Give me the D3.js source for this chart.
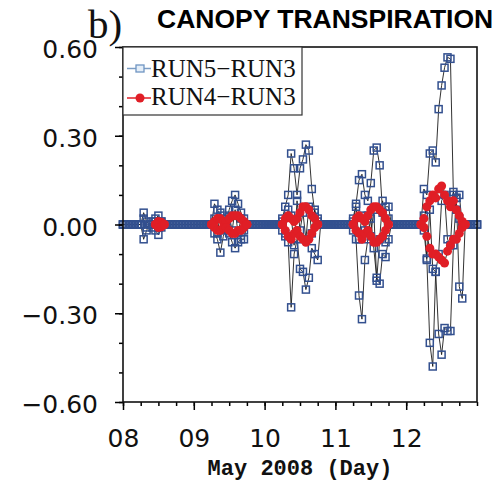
<!DOCTYPE html>
<html>
<head>
<meta charset="utf-8">
<script src="https://cdn.jsdelivr.net/npm/d3@7/dist/d3.min.js"></script>
<style>
  html, body { margin: 0; padding: 0; background: #fff; }
  svg { display: block; }
</style>
</head>
<body>
<div class="chart"></div>
<script>
"use strict";

// hours since 08 May 2008 00:00, hourly samples
var dayLabels = ['08', '09', '10', '11', '12'];
var dayHours = [0, 24, 48, 72, 96];
var yTicks = [0.6, 0.3, 0, -0.3, -0.6];
var seriesNames = ['RUN5\u2212RUN3', 'RUN4\u2212RUN3'];

// RUN5-RUN3 : first hour of each daytime window, then three traces per window (zero at night)
var run5Start = [6, 30, 53, 77, 101];
var run5A = [
  [0, 0.04, 0.01, 0.00, 0.01, 0.02, 0.03, 0.01, 0],
  [0, 0.07, 0.05, 0.03, 0.02, 0.01, 0.05, 0.08, 0.10, 0.07, 0.04, 0.02, 0],
  [0, 0.02, 0.06, 0.10, 0.24, 0.19, 0.10, 0.19, 0.22, 0.27, 0.25, 0.12, 0.04, 0.02, 0],
  [0, 0.02, 0.07, 0.15, 0.17, 0.10, 0.08, 0.14, 0.25, 0.26, 0.20, 0.04, 0.06, 0.06, 0],
  [0, 0.12, 0.10, 0.24, 0.25, 0.21, 0.39, 0.47, 0.53, 0.565, 0.56, 0.10, 0.09, 0.10, 0.00, 0]
];
var run5B = [
  [0, -0.05, -0.02, 0.00, -0.01, -0.02, -0.035, -0.01, 0],
  [0, -0.03, -0.05, -0.095, -0.04, -0.01, -0.03, -0.06, -0.08, -0.06, -0.05, -0.05, 0],
  [0, -0.02, -0.04, -0.06, -0.28, -0.10, -0.05, -0.15, -0.16, -0.22, -0.18, -0.08, -0.10, -0.12, 0],
  [0, -0.02, -0.05, -0.24, -0.32, -0.12, -0.05, 0.02, -0.08, -0.18, -0.20, -0.10, -0.11, -0.05, 0],
  [0, -0.02, -0.12, -0.40, -0.48, -0.16, -0.37, -0.44, -0.35, -0.36, -0.36, -0.07, 0.09, -0.21, -0.25, 0]
];
var run5C = [
  [0, 0.02, -0.01, 0.00, 0.00, 0.01, -0.01, 0.01, 0],
  [0, 0.02, -0.03, 0.04, -0.02, 0.01, 0.03, -0.02, 0.05, -0.03, 0.02, -0.02, 0],
  [0, 0.01, -0.03, 0.05, 0.03, -0.07, 0.08, -0.02, 0.04, -0.05, 0.06, -0.03, 0.05, 0.01, 0],
  [0, 0.01, 0.06, -0.05, 0.03, -0.02, 0.03, -0.04, 0.05, -0.19, -0.05, 0.08, -0.06, 0.02, 0],
  [0, 0.03, -0.115, 0.05, -0.15, -0.16, -0.10, 0.08, 0.10, -0.05, -0.07, 0.11, 0.05, 0.02, 0.00, 0]
];

// RUN4-RUN3 : only the daytime windows
var run4Start = [11, 30, 54, 78, 101];
var run4A = [
  [0, 0.01, 0.008, 0],
  [0, 0.01, 0.02, 0.02, 0.01, 0.01, 0.02, 0.03, 0.03, 0.03, 0.02, 0.01, 0],
  [0, 0.02, 0.03, 0.02, 0.01, 0.02, 0.04, 0.06, 0.06, 0.05, 0.03, 0.02, 0],
  [0, 0.02, 0.03, 0.02, 0.01, 0.03, 0.05, 0.06, 0.06, 0.05, 0.04, 0.02, 0],
  [0, 0.02, 0.06, 0.08, 0.10, 0.09, 0.12, 0.13, 0.10, 0.08, 0.06, 0.08, 0.05, 0.03, 0.01, 0]
];
var run4B = [
  [0, -0.01, -0.008, 0],
  [0, -0.01, -0.02, -0.02, -0.01, -0.01, -0.02, -0.03, -0.03, -0.02, -0.02, -0.01, 0],
  [0, -0.02, -0.04, -0.05, -0.03, -0.02, -0.04, -0.05, -0.06, -0.05, -0.03, -0.01, 0],
  [0, -0.02, -0.03, -0.05, -0.03, -0.02, -0.04, -0.06, -0.06, -0.05, -0.04, -0.02, 0],
  [0, -0.01, -0.04, -0.08, -0.10, -0.10, -0.11, -0.12, -0.13, -0.09, -0.07, -0.05, -0.05, -0.03, -0.01, 0]
];

var lastHour = 120;

function fullTrace(starts, segs) {
  var pts = d3.range(0, lastHour + 1).map(function (h) { return { h: h, v: 0 }; });
  segs.forEach(function (seg, i) {
    seg.forEach(function (v, k) { pts[starts[i] + k].v = v; });
  });
  return pts;
}

function dayTraces(starts, segs) {
  return segs.map(function (seg, i) {
    return seg.map(function (v, k) { return { h: starts[i] + k, v: v }; });
  });
}

var blueTraces = [fullTrace(run5Start, run5A), fullTrace(run5Start, run5B), fullTrace(run5Start, run5C)];
var redTraces = dayTraces(run4Start, run4A).concat(dayTraces(run4Start, run4B));

var svg = d3.select('.chart').append('svg').attr('width', 501).attr('height', 482);

var x = d3.scaleLinear().domain([0, lastHour]).range([123, 477]);
var y = d3.scaleLinear().domain([-0.6, 0.6]).range([402, 47]);
var line = d3.line().x(function (d) { return x(d.h); }).y(function (d) { return y(d.v); });

var sq = 7;
var blueStroke = '#33508f';

// RUN5-RUN3
var gBlue = svg.append('g');
gBlue.selectAll('path').data(blueTraces).enter().append('path')
  .attr('d', line).attr('fill', 'none').attr('stroke', '#1b1b1b').attr('stroke-width', 0.9);
blueTraces.forEach(function (tr) {
  gBlue.append('g').selectAll('rect').data(tr).enter().append('rect')
    .attr('x', function (d) { return x(d.h) - sq / 2; })
    .attr('y', function (d) { return y(d.v) - sq / 2; })
    .attr('width', sq).attr('height', sq)
    .attr('fill', 'none')
    .attr('stroke', blueStroke).attr('stroke-width', 1.5);
});

// RUN4-RUN3
var gRed = svg.append('g');
gRed.selectAll('path').data(redTraces).enter().append('path')
  .attr('d', line).attr('fill', 'none').attr('stroke', '#1b1b1b').attr('stroke-width', 0.9);
redTraces.forEach(function (tr) {
  gRed.append('g').selectAll('circle').data(tr).enter().append('circle')
    .attr('cx', function (d) { return x(d.h); })
    .attr('cy', function (d) { return y(d.v); })
    .attr('r', 4.5).attr('fill', '#e01e26');
});

// axes
var fmt = d3.format('.2f');
var yAxis = svg.append('g').attr('transform', 'translate(123,0)')
  .call(d3.axisLeft(y).tickValues(yTicks).tickSize(8).tickPadding(17).tickFormat(fmt));
var yMinor = svg.append('g').attr('transform', 'translate(123,0)')
  .call(d3.axisLeft(y).tickValues(d3.range(-6, 7).map(function (k) { return k / 10; })).tickSize(4).tickFormat(''));
var xAxis = svg.append('g').attr('transform', 'translate(0,402)')
  .call(d3.axisBottom(x).tickValues(dayHours).tickSize(8).tickFormat(function (d, i) { return dayLabels[i]; }));
var xMinor = svg.append('g').attr('transform', 'translate(0,402)')
  .call(d3.axisBottom(x).tickValues(d3.range(0, lastHour + 1, 6)).tickSize(4).tickFormat(''));

[yAxis, yMinor, xAxis, xMinor].forEach(function (g) {
  g.select('.domain').remove();
  g.selectAll('line').attr('stroke', '#000').attr('stroke-width', 1.5);
});
yAxis.selectAll('text').attr('font-family', 'DejaVu Sans').attr('font-size', 25).attr('fill', '#111').attr('dy', '0.42em');
xAxis.selectAll('text').attr('font-family', 'DejaVu Sans').attr('font-size', 25).attr('fill', '#111').attr('y', 45).attr('dy', 0);

svg.append('rect').attr('x', 123).attr('y', 47).attr('width', 354).attr('height', 355)
  .attr('fill', 'none').attr('stroke', '#111').attr('stroke-width', 1.6);

// legend
var legend = svg.append('g');
legend.append('rect').attr('x', 123).attr('y', 47).attr('width', 179).attr('height', 68)
  .attr('fill', '#fff').attr('stroke', '#333').attr('stroke-width', 1.2);
legend.append('line').attr('x1', 127).attr('x2', 151).attr('y1', 68.5).attr('y2', 68.5)
  .attr('stroke', '#7b9cc4').attr('stroke-width', 1.5);
legend.append('rect').attr('x', 136).attr('y', 65).attr('width', 8).attr('height', 7)
  .attr('fill', '#e4eef8').attr('stroke', '#6f95c2').attr('stroke-width', 1.3);
legend.append('line').attr('x1', 127).attr('x2', 151).attr('y1', 98).attr('y2', 98)
  .attr('stroke', '#e01e26').attr('stroke-width', 1.5);
legend.append('circle').attr('cx', 140).attr('cy', 98).attr('r', 4.5).attr('fill', '#e01e26');
legend.selectAll('text').data(seriesNames).enter().append('text')
  .attr('x', 151).attr('y', function (d, i) { return i === 0 ? 77 : 105; })
  .attr('font-family', 'Liberation Serif').attr('font-size', 25).attr('fill', '#111')
  .text(function (d) { return d; });

// titles
svg.append('text').attr('x', 88).attr('y', 38).attr('font-family', 'Liberation Serif')
  .attr('font-size', 41).attr('fill', '#111').text('b)');
svg.append('text').attr('x', 157).attr('y', 28).attr('font-family', 'Liberation Sans')
  .attr('font-weight', 'bold').attr('font-size', 26.5).attr('fill', '#000').text('CANOPY TRANSPIRATION');
svg.append('text').attr('x', 300).attr('y', 475).attr('text-anchor', 'middle')
  .attr('font-family', 'Liberation Mono').attr('font-weight', 'bold').attr('font-size', 22)
  .attr('fill', '#111').text('May 2008 (Day)');
</script>
</body>
</html>
